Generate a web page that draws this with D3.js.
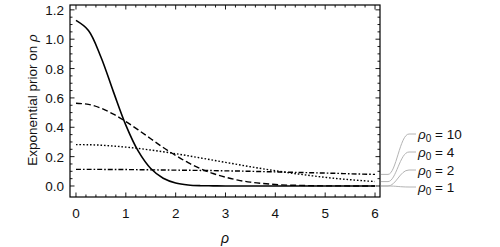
<!DOCTYPE html>
<html>
<head>
<meta charset="utf-8">
<script src="https://cdn.jsdelivr.net/npm/d3@7"></script>
<style>
  body { margin: 0; background: #fff; }
  text { font-family: "Liberation Sans", Arial, sans-serif; fill: #111; }
</style>
</head>
<body>
<div class="chart"></div>
<script>
// rho grid (0 to 6, step 0.25)
let rho = [0, 0.25, 0.5, 0.75, 1, 1.25, 1.5, 1.75, 2, 2.25, 2.5, 2.75, 3,
           3.25, 3.5, 3.75, 4, 4.25, 4.5, 4.75, 5, 5.25, 5.5, 5.75, 6];

// values
let rho0_1  = [1.128, 1.060, 0.879, 0.643, 0.415, 0.237, 0.119, 0.053, 0.021, 0.007, 0.002, 0.001, 0,
               0, 0, 0, 0, 0, 0, 0, 0, 0, 0, 0, 0];
let rho0_2  = [0.564, 0.556, 0.530, 0.490, 0.439, 0.382, 0.322, 0.262, 0.208, 0.159, 0.118, 0.085, 0.060,
               0.040, 0.026, 0.017, 0.010, 0.006, 0.004, 0.002, 0.001, 0.001, 0, 0, 0];
let rho0_4  = [0.282, 0.281, 0.278, 0.272, 0.265, 0.256, 0.245, 0.233, 0.220, 0.206, 0.191, 0.176, 0.161,
               0.146, 0.131, 0.117, 0.104, 0.091, 0.080, 0.069, 0.059, 0.050, 0.043, 0.036, 0.030];
let rho0_10 = [0.113, 0.113, 0.113, 0.112, 0.112, 0.111, 0.110, 0.109, 0.108, 0.107, 0.106, 0.105, 0.103,
               0.102, 0.100, 0.098, 0.096, 0.094, 0.092, 0.090, 0.088, 0.086, 0.083, 0.081, 0.079];

let seriesNames = ["1", "2", "4", "10"];
let dashes = [null, "6,3", "1.6,1.9", "5,2,1.6,2"];

let xTicks = [0, 1, 2, 3, 4, 5, 6];
let yTicks = [0, 0.2, 0.4, 0.6, 0.8, 1.0, 1.2];

let width = 500, height = 247;
let margin = { top: 5, right: 120, bottom: 50, left: 70 };
let plotW = width - margin.left - margin.right;
let plotH = height - margin.top - margin.bottom;

let svg = d3.select(".chart")
    .append("svg")
        .attr("width", width)
        .attr("height", height);

let g = svg.append("g")
    .attr("transform", `translate(${margin.left}, ${margin.top})`);

let xScale = d3.scaleLinear().domain([-0.12, 6.1]).range([0, plotW]);
let yScale = d3.scaleLinear().domain([-0.075, 1.233]).range([plotH, 0]);

// frame
g.append("rect")
    .attr("width", plotW).attr("height", plotH)
    .attr("fill", "none").attr("stroke", "#000").attr("stroke-width", 1.2);

let xMinor = d3.range(0, 6.01, 0.2);
let yMinor = d3.range(0, 1.2001, 0.05);

let tickLine = (sel, x1, y1, x2, y2) =>
    sel.append("line").attr("x1", x1).attr("y1", y1).attr("x2", x2).attr("y2", y2)
        .attr("stroke", "#000").attr("stroke-width", 0.9);

let ticks = g.append("g");
xMinor.forEach(v => {
    let major = Math.abs(v - Math.round(v)) < 1e-6;
    let len = major ? 4.5 : 2.5;
    let x = xScale(v);
    tickLine(ticks, x, plotH, x, plotH - len);
    tickLine(ticks, x, 0, x, len);
});
yMinor.forEach(v => {
    let major = Math.abs(v * 5 - Math.round(v * 5)) < 1e-6;
    let len = major ? 4.5 : 2.5;
    let y = yScale(v);
    tickLine(ticks, 0, y, len, y);
    tickLine(ticks, plotW, y, plotW - len, y);
});

g.selectAll(".xl").data(xTicks).enter().append("text")
    .attr("x", d => xScale(d)).attr("y", plotH + 21)
    .attr("text-anchor", "middle").attr("font-size", 13.5)
    .text(d => d);

g.selectAll(".yl").data(yTicks).enter().append("text")
    .attr("x", -6).attr("y", d => yScale(d) + 5)
    .attr("text-anchor", "end").attr("font-size", 13.5)
    .text(d => d.toFixed(1));

// axis labels
svg.append("text")
    .attr("x", margin.left + plotW / 2).attr("y", 243)
    .attr("text-anchor", "middle").attr("font-size", 14)
    .attr("font-style", "italic")
    .text("ρ");

let yl = svg.append("text")
    .attr("transform", `translate(37, ${margin.top + plotH / 2 - 1}) rotate(-90)`)
    .attr("text-anchor", "middle").attr("font-size", 13.5);
yl.append("tspan").text("Exponential prior on ");
yl.append("tspan").attr("font-style", "italic").text("ρ");

// curves
let allSeries = [rho0_1, rho0_2, rho0_4, rho0_10];
let line = d3.line()
    .x((d, i) => xScale(rho[i]))
    .y(d => yScale(d))
    .curve(d3.curveCatmullRom);

svg.append("clipPath").attr("id", "clip")
    .append("rect").attr("width", plotW).attr("height", plotH);

allSeries.forEach((s, i) => {
    g.append("path")
        .attr("d", line(s))
        .attr("fill", "none")
        .attr("stroke", "#000")
        .attr("stroke-width", i == 0 ? 1.6 : 1.4)
        .attr("stroke-dasharray", dashes[i])
        .attr("clip-path", "url(#clip)");
});

// callout labels
let labelY = [187, 170, 152, 134];
let lx0 = margin.left + plotW + 1;
allSeries.forEach((s, i) => {
    let y0 = margin.top + yScale(s[s.length - 1]);
    let y1 = labelY[i];
    let p = d3.path();
    p.moveTo(lx0, y0);
    p.lineTo(lx0 + 7, y0);
    p.bezierCurveTo(lx0 + 15, y0, lx0 + 19, y1, lx0 + 28, y1);
    p.lineTo(lx0 + 35, y1);
    svg.append("path").attr("d", p.toString())
        .attr("fill", "none").attr("stroke", "#b4b4b4").attr("stroke-width", 1);

    let t = svg.append("text")
        .attr("x", lx0 + 37).attr("y", y1 + 5)
        .attr("font-size", 13.5);
    t.append("tspan").attr("font-style", "italic").text("ρ");
    t.append("tspan").attr("font-size", 10).attr("dy", 3).text("0");
    t.append("tspan").attr("dy", -3).text(" = " + seriesNames[i]);
});
</script>
</body>
</html>
